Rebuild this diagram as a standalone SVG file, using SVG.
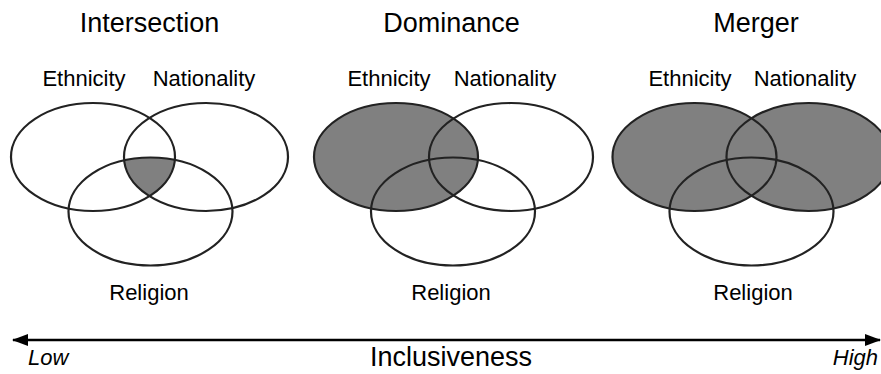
<svg xmlns="http://www.w3.org/2000/svg" width="881" height="374" viewBox="0 0 881 374">
  <style>
    .set { fill: none; stroke: #222; stroke-width: 2.2; }
    .shade { fill: #808080; stroke: none; }
    .title { font-family: "Liberation Sans", Arial, sans-serif; font-size: 27px; fill: #000; text-anchor: middle; }
    .label { font-family: "Liberation Sans", Arial, sans-serif; font-size: 22px; fill: #000; text-anchor: middle; }
    .end { font-family: "Liberation Sans", Arial, sans-serif; font-size: 22px; font-style: italic; fill: #000; }
    .axis { fill: none; stroke: #000; stroke-width: 2.6; }
  </style>
  <defs>
    <clipPath id="clipNat1"><ellipse cx="206" cy="157" rx="82" ry="54"/></clipPath>
    <clipPath id="clipRel1"><ellipse cx="150.5" cy="211.5" rx="82" ry="54"/></clipPath>
    <marker id="headEnd" viewBox="0 0 16 12" refX="15" refY="6" markerWidth="16" markerHeight="12" markerUnits="userSpaceOnUse" orient="auto">
      <path d="M0,0 L16,6 L0,12 Z" fill="#000"/>
    </marker>
    <marker id="headStart" viewBox="0 0 16 12" refX="1" refY="6" markerWidth="16" markerHeight="12" markerUnits="userSpaceOnUse" orient="auto">
      <path d="M16,0 L0,6 L16,12 Z" fill="#000"/>
    </marker>
  </defs>

  <rect width="881" height="374" fill="#fff"/>

  <!-- Intersection: only the common area of all three sets is shaded -->
  <g id="intersection">
    <text class="title" x="149.5" y="32">Intersection</text>
    <text class="label" x="84" y="86">Ethnicity</text>
    <text class="label" x="204" y="86">Nationality</text>
    <text class="label" x="149" y="300">Religion</text>
    <g clip-path="url(#clipNat1)">
      <ellipse class="shade" cx="93" cy="157" rx="82" ry="54" clip-path="url(#clipRel1)"/>
    </g>
    <ellipse class="set" cx="93" cy="157" rx="82" ry="54"/>
    <ellipse class="set" cx="206" cy="157" rx="82" ry="54"/>
    <ellipse class="set" cx="150.5" cy="211.5" rx="82" ry="54"/>
  </g>

  <!-- Dominance: the ethnicity set is shaded as a whole -->
  <g id="dominance">
    <text class="title" x="451.5" y="32">Dominance</text>
    <text class="label" x="389" y="86">Ethnicity</text>
    <text class="label" x="505" y="86">Nationality</text>
    <text class="label" x="451" y="300">Religion</text>
    <ellipse class="shade" cx="396" cy="157" rx="82" ry="54"/>
    <ellipse class="set" cx="396" cy="157" rx="82" ry="54"/>
    <ellipse class="set" cx="511" cy="157" rx="82" ry="54"/>
    <ellipse class="set" cx="453" cy="211.5" rx="82" ry="54"/>
  </g>

  <!-- Merger: ethnicity and nationality sets are both shaded -->
  <g id="merger">
    <text class="title" x="756" y="32">Merger</text>
    <text class="label" x="690" y="86">Ethnicity</text>
    <text class="label" x="805" y="86">Nationality</text>
    <text class="label" x="753" y="300">Religion</text>
    <ellipse class="shade" cx="694.5" cy="157" rx="82" ry="54"/>
    <ellipse class="shade" cx="808.5" cy="157" rx="82" ry="54"/>
    <ellipse class="set" cx="694.5" cy="157" rx="82" ry="54"/>
    <ellipse class="set" cx="808.5" cy="157" rx="82" ry="54"/>
    <ellipse class="set" cx="751.5" cy="211.5" rx="82" ry="54"/>
  </g>

  <!-- Inclusiveness scale -->
  <g id="connectors">
    <line class="axis" x1="13" y1="340" x2="880" y2="340" marker-start="url(#headStart)" marker-end="url(#headEnd)"/>
  </g>
  <g id="scale-labels">
    <text class="end" x="28" y="365">Low</text>
    <text class="end" x="878" y="365" text-anchor="end">High</text>
    <text class="title" x="451" y="366">Inclusiveness</text>
  </g>
</svg>
